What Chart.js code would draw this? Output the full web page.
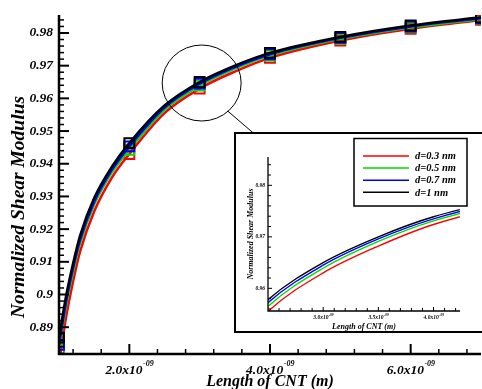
<!DOCTYPE html>
<html>
<head>
<meta charset="utf-8">
<script src="https://cdn.jsdelivr.net/npm/chart.js@4.4.1/dist/chart.umd.min.js"></script>
<style>
  html, body { margin: 0; padding: 0; background: #fff; overflow: hidden; }
  #wrap { position: relative; width: 482px; height: 389px; overflow: hidden; }
  #main { position: absolute; left: 0; top: 0; }
  #insetBox { position: absolute; left: 234px; top: 132px; width: 260px; height: 197px;
              border: 2px solid #000; background: #fff; }
  #inset { position: absolute; left: 0; top: 0; }
</style>
</head>
<body>
<div id="wrap">
  <canvas id="main" width="490" height="389"></canvas>
  <div id="insetBox"><canvas id="inset" width="260" height="197"></canvas></div>
</div>
<script>
var lengths = [1.0e-9, 1.1e-9, 1.2e-9, 1.3e-9, 1.5e-9, 1.75e-9, 2.0e-9, 2.5e-9,
               3.0e-9, 3.5e-9, 4.0e-9, 5.0e-9, 6.0e-9, 7.0e-9];
// lengths that carry a square marker
var markerLengths = [1.0e-9, 2.0e-9, 3.0e-9, 4.0e-9, 5.0e-9, 6.0e-9, 7.0e-9];

// normalized shear modulus, one array per diameter
var d03 = [0.8790, 0.8930, 0.9040, 0.9132, 0.9254, 0.9357, 0.9430, 0.9555, 0.9630, 0.9682, 0.9724, 0.9777, 0.9813, 0.9840];
var d05 = [0.8833, 0.8965, 0.9070, 0.9157, 0.9275, 0.9373, 0.9443, 0.9565, 0.9639, 0.9691, 0.9731, 0.9782, 0.9817, 0.9843];
var d07 = [0.8846, 0.8978, 0.9082, 0.9168, 0.9284, 0.9381, 0.9453, 0.9572, 0.9645, 0.9696, 0.9735, 0.9785, 0.9820, 0.9845];
var d10 = [0.8868, 0.8995, 0.9095, 0.9180, 0.9295, 0.9390, 0.9463, 0.9578, 0.9650, 0.9700, 0.9739, 0.9788, 0.9823, 0.9848];

var seriesNames = ['d=0.3 nm', 'd=0.5 nm', 'd=0.7 nm', 'd=1 nm'];
var seriesValues = [d03, d05, d07, d10];

// tick labels, main plot
var yTickValues = [0.89, 0.90, 0.91, 0.92, 0.93, 0.94, 0.95, 0.96, 0.97, 0.98];
var yTickLabels = ['0.89', '0.9', '0.91', '0.92', '0.93', '0.94', '0.95', '0.96', '0.97', '0.98'];
var xTickValues = [2.0e-9, 4.0e-9, 6.0e-9];
var xTickLabels = ['2.0x10', '4.0x10', '6.0x10'];
var xTickExp = '-09';

// tick labels, zoomed inset
var insetYTickValues = [0.96, 0.97, 0.98];
var insetYTickLabels = ['0.96', '0.97', '0.98'];
var insetXTickValues = [3.0e-9, 3.5e-9, 4.0e-9];
var insetXTickLabels = ['3.0x10', '3.5x10', '4.0x10'];

var xTitle = 'Length of CNT (m)';
var yTitle = 'Normalized Shear Modulus';

var colors = ['#ff0000', '#00dd00', '#0000ff', '#000000'];

function font(size) {
  return 'italic bold ' + size + 'px "Liberation Serif", "Times New Roman", serif';
}

function sciLabel(ctx, x, y, base, exp, size, supSize, lift) {
  ctx.font = font(size);
  var wb = ctx.measureText(base).width;
  ctx.font = font(supSize);
  var we = ctx.measureText(exp).width;
  var left = x - (wb + we) / 2;
  ctx.textAlign = 'left';
  ctx.textBaseline = 'alphabetic';
  ctx.font = font(size);
  ctx.fillText(base, left, y);
  ctx.font = font(supSize);
  ctx.fillText(exp, left + wb + 0.5, y - lift);
}

function tick(ctx, x1, y1, x2, y2) {
  ctx.beginPath(); ctx.moveTo(x1, y1); ctx.lineTo(x2, y2); ctx.stroke();
}

// axes with inward ticks, labels and titles (Tecplot look)
function drawFrame(chart, f) {
  var ctx = chart.ctx, a = chart.chartArea, sx = chart.scales.x, sy = chart.scales.y;
  ctx.save();
  ctx.strokeStyle = '#000';
  ctx.fillStyle = '#000';
  ctx.lineWidth = f.axisW;
  ctx.beginPath();
  ctx.moveTo(a.left, a.top); ctx.lineTo(a.left, a.bottom); ctx.lineTo(a.right, a.bottom);
  ctx.stroke();

  for (var k = f.yK[0]; k <= f.yK[1]; k++) {
    var major = k % 5 === 0;
    var py = sy.getPixelForValue(k * f.yStep);
    ctx.lineWidth = major ? f.majW : f.minW;
    tick(ctx, a.left, py, a.left + (major ? f.majLen : f.minLen), py);
  }
  for (k = f.xK[0]; k <= f.xK[1]; k++) {
    major = k % 5 === 0;
    var px = sx.getPixelForValue(k * f.xStep);
    ctx.lineWidth = major ? f.majW : f.minW;
    tick(ctx, px, a.bottom, px, a.bottom - (major ? f.majLen : f.minLen));
  }

  ctx.font = font(f.tickSize);
  ctx.textAlign = 'right';
  ctx.textBaseline = 'middle';
  f.yVals.forEach(function (v, i) {
    ctx.fillText(f.yLabels[i], a.left - f.yLabelGap, sy.getPixelForValue(v));
  });
  f.xVals.forEach(function (v, i) {
    sciLabel(ctx, sx.getPixelForValue(v), a.bottom + f.xLabelDy, f.xLabels[i], xTickExp,
             f.tickSize, f.supSize, f.supLift);
  });

  ctx.font = font(f.xTitleSize);
  ctx.textAlign = 'center';
  ctx.textBaseline = 'alphabetic';
  ctx.fillText(xTitle, (a.left + a.right) / 2, a.bottom + f.xTitleDy);

  ctx.save();
  ctx.translate(f.yTitleX, f.yTitleY);
  ctx.rotate(-Math.PI / 2);
  ctx.font = font(f.yTitleSize);
  ctx.textBaseline = 'middle';
  ctx.fillText(yTitle, 0, 0);
  ctx.restore();
  ctx.restore();
}

function makeDatasets(lineW, withMarkers) {
  return seriesNames.map(function (name, i) {
    return {
      label: name,
      data: lengths.map(function (L, j) { return { x: L, y: seriesValues[i][j] }; }),
      borderColor: colors[i],
      borderWidth: lineW,
      cubicInterpolationMode: 'monotone',
      pointStyle: 'rect',
      pointRadius: function (c) {
        return withMarkers && markerLengths.indexOf(lengths[c.dataIndex]) >= 0 ? 7 : 0;
      },
      pointBorderWidth: 2,
      pointBorderColor: colors[i],
      pointBackgroundColor: 'rgba(0,0,0,0)',
      order: 3 - i
    };
  });
}

var baseOptions = {
  responsive: false,
  animation: false,
  events: [],
  plugins: { legend: { display: false }, tooltip: { enabled: false } }
};

new Chart(document.getElementById('main'), {
  type: 'line',
  data: { datasets: makeDatasets(2.5, true) },
  options: Object.assign({}, baseOptions, {
    layout: { padding: { left: 59, top: 15, right: 4, bottom: 35 } },
    scales: {
      x: { type: 'linear', min: 1.0e-9, max: 7.0e-9, display: false },
      y: { type: 'linear', min: 0.8818, max: 0.9855, display: false }
    }
  }),
  plugins: [{
    id: 'mainFrame',
    afterDraw: function (chart) {
      drawFrame(chart, {
        axisW: 2.5, majW: 2, minW: 1.5, majLen: 10, minLen: 5,
        yK: [441, 492], yStep: 0.002, xK: [3, 17], xStep: 0.4e-9,
        yVals: yTickValues, yLabels: yTickLabels, xVals: xTickValues, xLabels: xTickLabels,
        tickSize: 13.5, supSize: 8, supLift: 8, yLabelGap: 6, xLabelDy: 20,
        xTitleSize: 16, xTitleDy: 32, yTitleSize: 19.5, yTitleX: 19, yTitleY: 207
      });
      // highlight ellipse around the 3 nm point and its leader to the inset
      var ctx = chart.ctx, sx = chart.scales.x, sy = chart.scales.y;
      var cx = sx.getPixelForValue(3.0e-9) + 2, cy = sy.getPixelForValue(0.9650) + 1;
      ctx.save();
      ctx.strokeStyle = '#000';
      ctx.lineWidth = 1;
      ctx.beginPath();
      ctx.ellipse(cx, cy, 39.5, 38, 0, 0, Math.PI * 2);
      ctx.stroke();
      ctx.beginPath();
      ctx.moveTo(cx + 26, cy + 28);
      ctx.lineTo(cx + 54, cy + 52);
      ctx.stroke();
      ctx.restore();
    }
  }]
});

new Chart(document.getElementById('inset'), {
  type: 'line',
  data: { datasets: makeDatasets(1.4, false) },
  options: Object.assign({}, baseOptions, {
    layout: { padding: { left: 32, top: 23, right: 36, bottom: 20 } },
    scales: {
      x: { type: 'linear', min: 2.5e-9, max: 4.24e-9, display: false },
      y: { type: 'linear', min: 0.9556, max: 0.9855, display: false }
    }
  }),
  plugins: [{
    id: 'insetFrame',
    afterDraw: function (chart) {
      drawFrame(chart, {
        axisW: 1.3, majW: 1, minW: 1, majLen: 4, minLen: 3,
        yK: [478, 492], yStep: 0.002, xK: [26, 42], xStep: 0.1e-9,
        yVals: insetYTickValues, yLabels: insetYTickLabels,
        xVals: insetXTickValues, xLabels: insetXTickLabels,
        tickSize: 5.5, supSize: 3.5, supLift: 3.5, yLabelGap: 3, xLabelDy: 8,
        xTitleSize: 8, xTitleDy: 18, yTitleSize: 8, yTitleX: 14.5, yTitleY: 100
      });
      // legend box
      var ctx = chart.ctx;
      ctx.save();
      ctx.strokeStyle = '#000';
      ctx.lineWidth = 1.5;
      ctx.strokeRect(118, 4.5, 113, 67.5);
      ctx.font = font(10.5);
      ctx.textAlign = 'left';
      ctx.textBaseline = 'middle';
      seriesNames.forEach(function (name, i) {
        var yy = 22 + i * 12.1;
        ctx.strokeStyle = colors[i];
        ctx.lineWidth = 1.5;
        tick(ctx, 127, yy, 173, yy);
        ctx.fillStyle = '#000';
        ctx.fillText(name, 179, yy + 0.5);
      });
      ctx.restore();
    }
  }]
});
</script>
</body>
</html>
